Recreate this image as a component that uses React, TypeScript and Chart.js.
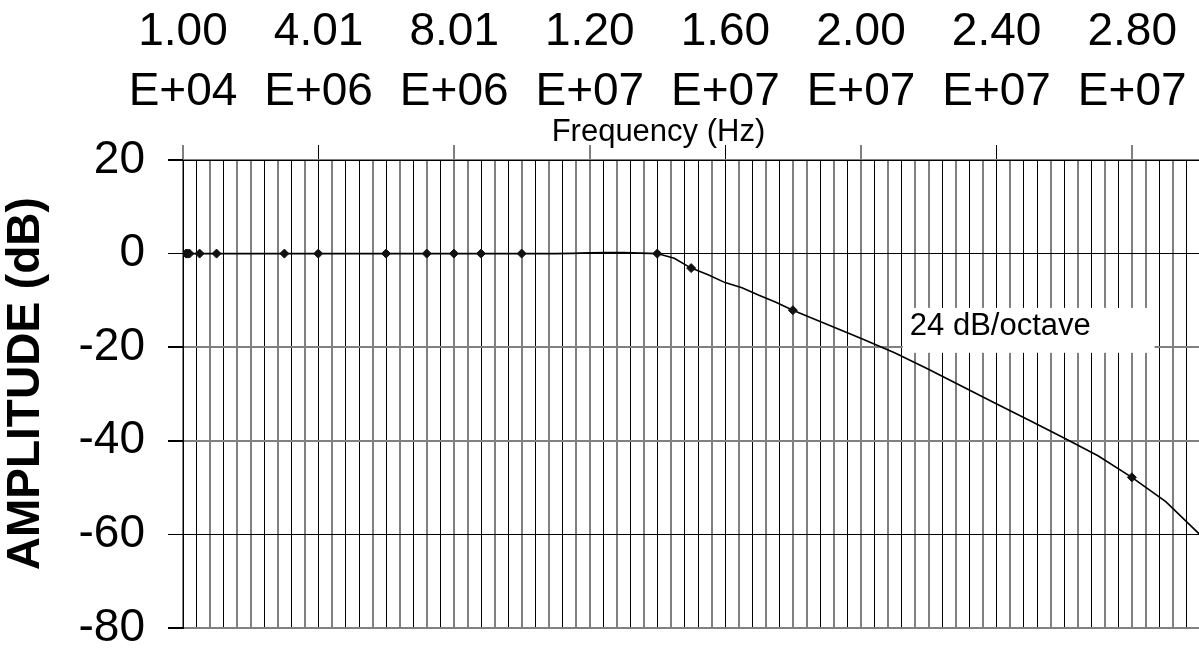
import React, { useEffect, useRef } from "react";
import { Chart, registerables } from "chart.js";

Chart.register(...registerables);

const FONT = '"Liberation Sans", Arial, Helvetica, sans-serif';

// Computed response curve (frequency in Hz, amplitude in dB)
const curveFreqHz = [
  1e4, 1e6, 2e6, 3e6, 4e6, 5e6, 6e6, 7e6, 8e6, 9e6, 1e7, 1.1e7,
  1.15e7, 1.2e7, 1.25e7, 1.3e7, 1.35e7, 1.4e7,
  1.45e7, 1.5e7, 1.55e7, 1.6e7, 1.65e7, 1.7e7, 1.75e7, 1.8e7,
  1.9e7, 2.0e7, 2.1e7, 2.2e7, 2.3e7, 2.4e7, 2.5e7, 2.6e7, 2.7e7, 2.8e7, 2.9e7, 3.0e7,
];
const curveDb = [
  0, 0, 0, 0, 0, 0, 0, 0, 0, 0, 0, 0,
  0.05, 0.15, 0.2, 0.2, 0.1, 0,
  -1.0, -3.1, -4.5, -6.2, -7.3, -8.9, -10.4, -12.1,
  -15.1, -18.1, -21.2, -24.7, -28.4, -32.1, -35.7, -39.4, -43.2, -47.8, -53.0, -60.0,
];

// Measured points (diamond markers)
const measFreqHz = [
  1e5, 1.5e5, 2e5, 5e5, 1e6, 3e6, 4e6, 6e6, 7.2e6, 8e6, 8.8e6, 1e7,
  1.4e7, 1.5e7, 1.8e7, 2.8e7,
];
const measDb = [
  0, 0, 0, 0, 0, 0, 0, 0, 0, 0, 0, 0,
  0, -3.1, -12.1, -47.8,
];

// Axis settings
const X_MIN = 1e4;
const X_MAX = 3.001e7;
const X_STEP = 4e5;
const X_LABEL_EVERY = 10;
const Y_MIN = -80;
const Y_MAX = 20;
const Y_STEP = 20;

const X_TITLE = "Frequency (Hz)";
const Y_TITLE = "AMPLITUDE (dB)";
const NOTE_TEXT = "24 dB/octave";

function formatSci(v: number): string[] {
  const [m, e] = Number(v).toExponential(2).split("e");
  const sign = e[0];
  const digits = e.slice(1).padStart(2, "0");
  return [m, "E" + sign + digits];
}

function gridColor(ctx: any): string {
  const scale = ctx.scale;
  if (!scale || ctx.index === undefined) return "#000";
  const p = scale.getPixelForTick(ctx.index);
  const f = p - Math.floor(p);
  return f > 0.25 && f < 0.75 ? "#000" : "#808080";
}
function gridWidth(ctx: any): number {
  const scale = ctx.scale;
  if (!scale || ctx.index === undefined) return 1;
  const p = scale.getPixelForTick(ctx.index);
  const f = p - Math.floor(p);
  return f > 0.25 && f < 0.75 ? 1 : 2;
}

const textPlugin = {
  id: "textPlugin",
  afterDraw(chart: any) {
    const ctx = chart.ctx as CanvasRenderingContext2D;
    const a = chart.chartArea;
    const xs = chart.scales.x;
    const ys = chart.scales.y;
    ctx.save();
    ctx.fillStyle = "#000";

    // annotation with white background
    const bx1 = xs.getPixelForValue(2.124e7);
    const bx2 = xs.getPixelForValue(2.867e7);
    const by1 = ys.getPixelForValue(-11.6);
    const by2 = ys.getPixelForValue(-21.2);
    ctx.fillStyle = "#fff";
    ctx.fillRect(bx1, by1, bx2 - bx1, by2 - by1);
    ctx.fillStyle = "#000";
    ctx.font = `31px ${FONT}`;
    ctx.textAlign = "left";
    ctx.textBaseline = "alphabetic";
    ctx.fillText(NOTE_TEXT, xs.getPixelForValue(2.145e7), ys.getPixelForValue(-17.4));

    // x title (between tick labels and plot)
    ctx.font = `31px ${FONT}`;
    ctx.textAlign = "center";
    ctx.fillText(X_TITLE, a.left + (a.right - a.left) * 0.4675, a.top - 19);

    // y title
    ctx.translate(26.5, a.top + (a.bottom - a.top) * 0.478);
    ctx.rotate(-Math.PI / 2);
    ctx.font = `bold 46px ${FONT}`;
    ctx.textAlign = "center";
    ctx.textBaseline = "middle";
    ctx.fillText(Y_TITLE, 0, 0);
    ctx.restore();
  },
};

export default function App() {
  const canvasRef = useRef<HTMLCanvasElement | null>(null);

  useEffect(() => {
    if (!canvasRef.current) return;
    const curve = curveFreqHz.map((x, i) => ({ x, y: curveDb[i] }));
    const meas = measFreqHz.map((x, i) => ({ x, y: measDb[i] }));

    const chart = new Chart(canvasRef.current, {
      type: "line",
      data: {
        datasets: [
          {
            label: "Measured",
            data: meas,
            showLine: false,
            pointStyle: "rectRot",
            pointRadius: 4.5,
            pointBorderWidth: 1,
            pointBackgroundColor: "#111",
            pointBorderColor: "#111",
            borderColor: "#111",
            backgroundColor: "#111",
          },
          {
            label: "Response",
            data: curve,
            borderColor: "#000",
            borderWidth: 1.6,
            pointRadius: 0,
            tension: 0,
            fill: false,
          },
        ],
      },
      options: {
        animation: false,
        responsive: true,
        maintainAspectRatio: false,
        devicePixelRatio: 1,
        layout: { autoPadding: false, padding: { left: 0, top: 0, right: 6, bottom: 22 } },
        plugins: {
          legend: { display: false },
          tooltip: { enabled: false },
          title: { display: false },
        },
        scales: {
          x: {
            type: "linear",
            position: "top",
            min: X_MIN,
            max: X_MAX,
            afterFit(scale: any) {
              scale.height = 160;
              scale.paddingLeft = 0;
              scale.paddingRight = 0;
              scale.paddingTop = 0;
              scale.paddingBottom = 0;
            },
            ticks: {
              stepSize: X_STEP,
              autoSkip: false,
              maxRotation: 0,
              minRotation: 0,
              padding: 23,
              color: "#000",
              font: { family: FONT, size: 46, lineHeight: 1.304 },
              callback: (v: any, i: number) => (i % X_LABEL_EVERY === 0 ? formatSci(Number(v)) : ""),
            },
            grid: {
              color: gridColor,
              lineWidth: gridWidth,
              tickLength: 15,
              tickWidth: 1,
              tickColor: (ctx: any) => (ctx.index % X_LABEL_EVERY === 0 ? "#000" : "rgba(0,0,0,0)"),
            },
            border: { display: true, color: "#000", width: 1 },
          },
          y: {
            type: "linear",
            position: "left",
            min: Y_MIN,
            max: Y_MAX,
            afterFit(scale: any) {
              scale.width = 183;
              scale.paddingLeft = 0;
              scale.paddingRight = 0;
              scale.paddingTop = 0;
              scale.paddingBottom = 0;
            },
            ticks: {
              stepSize: Y_STEP,
              padding: 23,
              color: "#000",
              font: { family: FONT, size: 46 },
            },
            grid: {
              color: gridColor,
              lineWidth: gridWidth,
              tickLength: 15,
              tickColor: "#000",
            },
            border: { display: true, color: "#000", width: 1 },
          },
        },
      },
      plugins: [textPlugin],
    } as any);

    return () => chart.destroy();
  }, []);

  return (
    <div
      style={{
        position: "fixed",
        left: 0,
        top: 0,
        width: 1199,
        height: 650,
        overflow: "hidden",
        background: "#fff",
      }}
    >
      <div style={{ position: "relative", width: 1206, height: 650 }}>
        <canvas ref={canvasRef} />
      </div>
    </div>
  );
}
